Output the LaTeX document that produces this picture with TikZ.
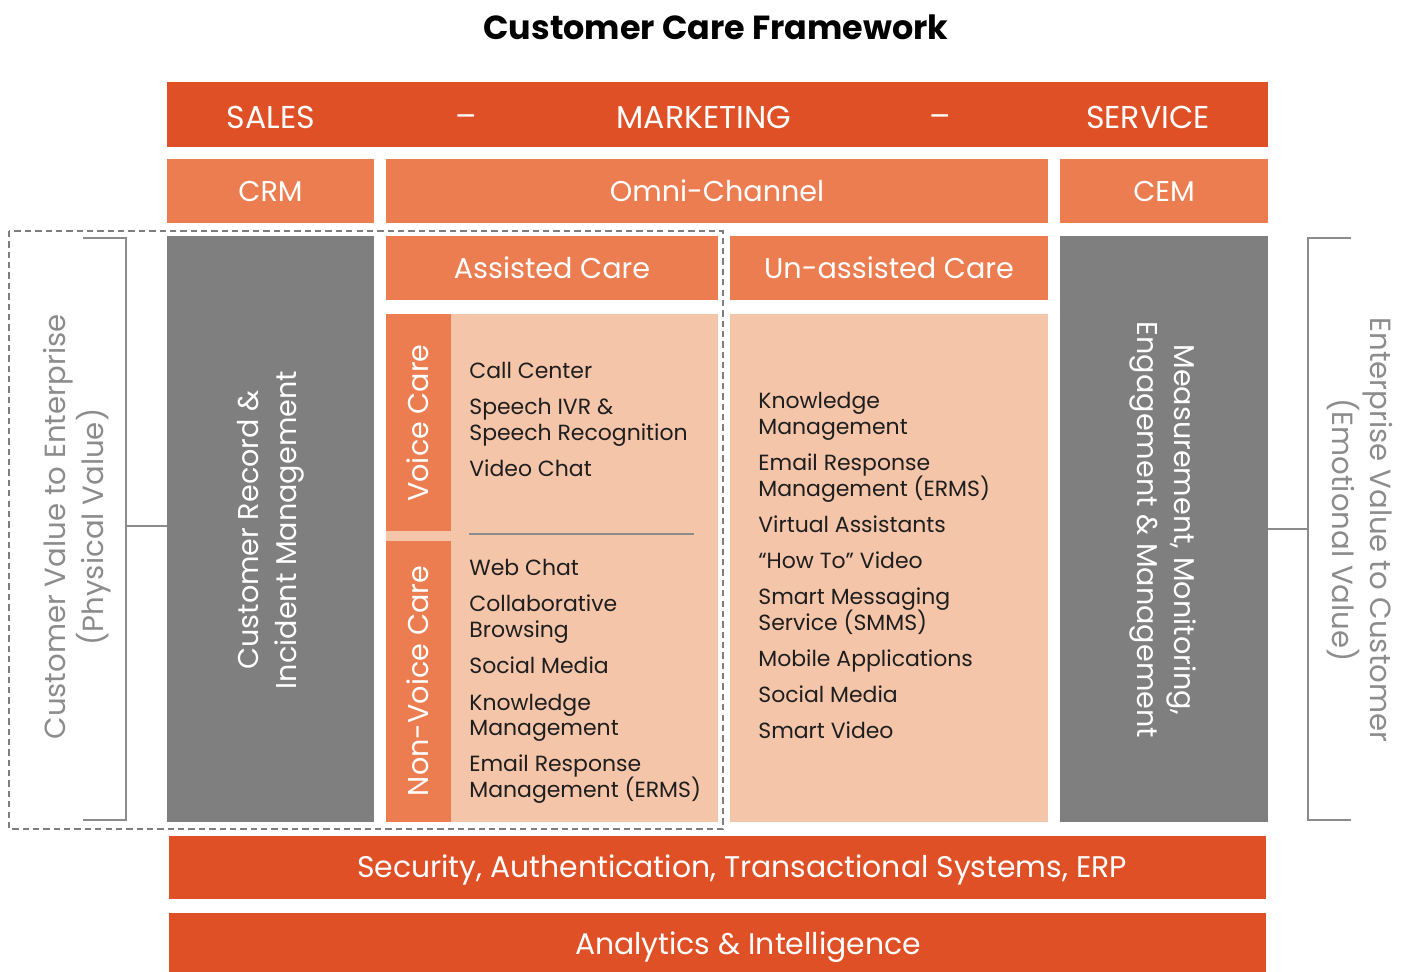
\documentclass[tikz,border=0pt]{standalone}
\usepackage{fontspec}
\setmainfont{Poppins}
\usetikzlibrary{positioning}
\definecolor{DeepOrange}{HTML}{E05026}
\definecolor{MidOrange}{HTML}{EB7D50}
\definecolor{PaleOrange}{HTML}{F5C5A9}
\definecolor{BoxGray}{HTML}{7F7F7F}
\definecolor{LineGray}{HTML}{8C8C8C}
\definecolor{InkDark}{HTML}{1E1E1E}
\newcommand{\pxu}{0.02cm}
\tikzset{
  % Box styles
  wh/.style 2 args={minimum width=#1*\pxu, minimum height=#2*\pxu},
  barbox/.style={rectangle, inner sep=0pt, fill=DeepOrange, text=white, font=\fontsize{17}{20}\selectfont},
  headbox/.style={rectangle, inner sep=0pt, fill=MidOrange, text=white, font=\fontsize{16.3}{19}\selectfont},
  graybox/.style={rectangle, inner sep=0pt, fill=BoxGray},
  palebox/.style={rectangle, inner sep=0pt, fill=PaleOrange},
  % Text styles
  bartext/.style={text=white, font=\fontsize{18}{21}\selectfont},
  striptext/.style={text=white, font=\fontsize{16.3}{19}\selectfont},
  sidetext/.style={text=white, font=\fontsize{16.3}{21.5}\selectfont, align=center},
  valuetext/.style={text=LineGray, font=\fontsize{16.6}{21.5}\selectfont, align=center},
  itemtext/.style={anchor=mid west, inner sep=0pt, text=InkDark, font=\fontsize{12.5}{14}\selectfont},
  % Line styles
  bracket/.style={draw=LineGray, line width=1.2pt},
}
\begin{document}
\begin{tikzpicture}[x=\pxu, y=-\pxu]
  \useasboundingbox (0,0) rectangle (1402,972);

  % Title
  \node[font=\fontsize{19}{23}\selectfont\bfseries] (title) at (716,27) {Customer Care Framework};

  % Top bar
  \node[barbox, wh={1101}{65}] (topbar) at (717.5,114.5) {};
  \node[bartext] (sales) at (271,117) {SALES};
  \node[bartext] (dash1) at (466,121) {--};
  \node[bartext] (mkt) at (704,117) {MARKETING};
  \node[bartext] (dash2) at (940,121) {--};
  \node[bartext] (serv) at (1148,117) {SERVICE};

  % Second row
  \node[headbox, wh={207}{64}] (crm) at (270.5,191) {CRM};
  \node[headbox, wh={662}{64}] (omni) at (717,191) {Omni-Channel};
  \node[headbox, wh={208}{64}] (cem) at (1164,191) {CEM};

  % Side columns
  \node[graybox, wh={207}{586}] (recbox) at (270.5,529) {};
  \node[sidetext, rotate=90] (rectext) at (271,530) {Customer Record \&\\Incident Management};
  \node[graybox, wh={208}{586}] (mmbox) at (1164,529) {};
  \node[sidetext, rotate=-90] (mmtext) at (1163,530) {Measurement, Monitoring,\\Engagement \& Management};

  % Care headers
  \node[headbox, wh={332}{64}] (assisted) at (552,268) {Assisted Care};
  \node[headbox, wh={318}{64}] (unassisted) at (889,268) {Un-assisted Care};

  % Care contents
  \node[palebox, wh={332}{508}] (apanel) at (552,568) {};
  \node[palebox, wh={318}{508}] (upanel) at (889,568) {};
  \node[headbox, wh={65}{217}] (voice) at (418.5,422.5) {};
  \node[striptext, rotate=90] (voicetext) at (418,423) {Voice Care};
  \node[headbox, wh={65}{281}] (nonvoice) at (418.5,681.5) {};
  \node[striptext, rotate=90] (nonvoicetext) at (418,681) {Non-Voice Care};
  \draw[draw=LineGray, line width=1.1pt] (469,534) -- (694,534);

  \foreach \y/\t [count=\i] in {371/Call Center, 407/Speech IVR \&, 433/Speech Recognition, 469/Video Chat,
      568/Web Chat, 604/Collaborative, 630/Browsing, 666/Social Media, 703/Knowledge,
      728/Management, 764/Email Response, 790/Management (ERMS)} {
    \node[itemtext] (aitem\i) at (469,\y+3) {\t};
  }
  \foreach \y/\t [count=\i] in {401/Knowledge, 427/Management, 463/Email Response, 489/Management (ERMS),
      525/Virtual Assistants, 561/“How To” Video, 597/Smart Messaging, 623/Service (SMMS),
      659/Mobile Applications, 695/Social Media, 731/Smart Video} {
    \node[itemtext] (uitem\i) at (758,\y+3) {\t};
  }

  % Bottom bars
  \node[barbox, wh={1097}{63}] (secbar) at (717.5,867.5) {};
  \node[barbox, fill=none] (sectext) at (742,870) {Security, Authentication, Transactional Systems, ERP};
  \node[barbox, wh={1097}{66}] (anbar) at (717.5,946) {};
  \node[barbox, fill=none] (antext) at (748,947) {Analytics \& Intelligence};

  % Physical value bracket
  \draw[draw=LineGray!90!black, line width=1.5pt, dash pattern=on 3.6pt off 2.3pt] (9,231) rectangle (723,829);
  \draw[bracket] (83,238) -- (126,238) -- (126,820) -- (83,820);
  \coordinate (lbr) at (126,526);
  \draw[bracket] (lbr) -- (lbr -| recbox.west);
  \node[valuetext, rotate=90] (physval) at (77,527) {Customer Value to Enterprise\\(Physical Value)};

  % Emotional value bracket
  \draw[bracket] (1351,238) -- (1308,238) -- (1308,820) -- (1351,820);
  \coordinate (rbr) at (1308,529);
  \draw[bracket] (rbr) -- (rbr -| mmbox.east);
  \node[valuetext, rotate=-90] (emoval) at (1360,530) {Enterprise Value to Customer\\(Emotional Value)};
\end{tikzpicture}
\end{document}
